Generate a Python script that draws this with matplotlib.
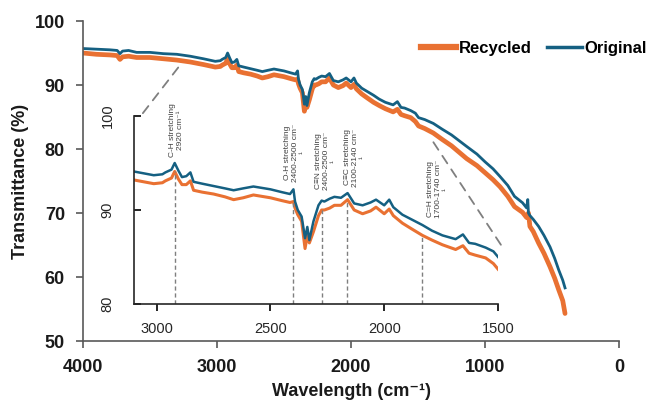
import numpy as np
import matplotlib
matplotlib.use("Agg")
import matplotlib.pyplot as plt
from matplotlib.lines import Line2D
from matplotlib.patches import ConnectionPatch

# FTIR spectra, wavenumber in cm-1
wavenumber = [4000, 3900, 3800, 3745, 3724, 3705, 3660, 3600, 3500, 3400, 3300, 3200,
              3101, 3013, 2975, 2962, 2935, 2921, 2905, 2889, 2870, 2852, 2838, 2800,
              2750, 2700, 2662, 2620, 2575, 2500, 2450, 2414, 2399, 2392, 2380, 2363,
              2348, 2338, 2329, 2311, 2289, 2275, 2263, 2240, 2219, 2190, 2161, 2132,
              2095, 2060, 2036, 2000, 1978, 1960, 1920, 1880, 1832, 1790, 1744, 1686,
              1654, 1627, 1600, 1554, 1520, 1496, 1450, 1386, 1320, 1250, 1137, 1060,
              1000, 940, 888, 830, 780, 720, 690, 681, 676, 665, 640, 600, 560, 515,
              480, 450, 420, 403]
original = [95.7, 95.6, 95.5, 95.4, 94.9, 95.3, 95.4, 95.1, 95.1, 94.9, 94.8, 94.5,
            94.1, 93.7, 93.8, 94.0, 94.3, 95.0, 94.2, 93.5, 93.6, 94.0, 93.0, 92.8,
            92.55, 92.3, 92.1, 92.3, 92.5, 92.2, 91.9, 91.7, 92.2, 90.9, 90.0, 89.3,
            87.0, 88.2, 86.8, 88.8, 90.5, 91.0, 90.9, 91.2, 91.4, 91.3, 91.8, 90.7,
            90.5, 90.8, 91.1, 90.5, 91.1, 90.3, 89.5, 89.0, 88.4, 87.8, 87.3, 86.9,
            87.4, 86.5, 86.4, 86.0, 85.6, 84.9, 84.6, 84.0, 83.1, 82.2, 80.4, 79.2,
            78.0, 76.9, 75.7, 74.3, 72.6, 71.6, 70.8, 72.1, 70.0, 69.6, 69.0, 67.9,
            66.5, 64.7, 62.9, 61.1, 59.5, 58.3]
recycled = [95.0, 94.8, 94.7, 94.6, 94.0, 94.4, 94.5, 94.3, 94.3, 94.1, 93.9, 93.6,
            93.2, 92.8, 92.9, 93.1, 93.4, 94.1, 93.3, 92.7, 92.7, 93.1, 92.1, 91.9,
            91.7, 91.4, 91.1, 91.3, 91.6, 91.3, 91.0, 90.8, 90.9, 90.2, 89.5, 88.8,
            85.9, 87.3, 86.5, 87.7, 89.4, 90.0, 90.0, 90.2, 90.5, 90.5, 91.1, 90.0,
            89.6, 89.9, 90.3, 89.6, 90.1, 89.4, 88.6, 88.0, 87.3, 86.8, 86.3, 85.8,
            86.2, 85.4, 85.2, 84.9, 84.3, 83.6, 83.2, 82.5, 81.5, 80.5, 78.5, 77.4,
            76.3, 75.2, 74.1, 72.6, 71.0, 70.1, 69.3, 69.8, 70.0, 67.9, 67.1, 65.3,
            63.7, 61.6, 59.8, 58.0, 56.3, 54.3]

# band annotations in the zoomed panel
band_labels = ["C-H stretching\n2920 cm\u207b\u00b9",
               "O-H stretching\n2400-2500 cm\u207b\n\u00b9",
               "C\u2261N stretching\n2400-2500 cm\u207b\n\u00b9",
               "C\u2261C stretching\n2100-2140 cm\u207b\n\u00b9",
               "C=H stretching\n1700-1740 cm\u207b\n\u00b9"]
band_line_wn = [2921, 2403, 2273, 2164, 1835]
band_text_wn = [2912, 2390, 2255, 2127, 1763]
band_text_y = [95.6, 93.0, 92.1, 92.5, 89.1]

BLUE = "#156082"
ORANGE = "#E97132"
bold_font = ["Liberation Sans", "DejaVu Sans"]
thin_font = ["Liberation Sans", "DejaVu Sans"]

fig = plt.figure(figsize=(6.51, 4.01), dpi=100)

# main spectrum
ax = fig.add_axes([0.1275, 0.1496, 0.8234, 0.798])
ax.plot(wavenumber, recycled, color=ORANGE, lw=3.4, solid_capstyle="round")
ax.plot(wavenumber, original, color=BLUE, lw=2.0)
ax.set_xlim(4000, 0)
ax.set_ylim(50, 100)
ax.set_xticks([4000, 3000, 2000, 1000, 0])
ax.set_yticks([50, 60, 70, 80, 90, 100])
for side in ["top", "right"]:
    ax.spines[side].set_visible(False)
for side in ["left", "bottom"]:
    ax.spines[side].set_color("#595959")
    ax.spines[side].set_linewidth(1.2)
ax.tick_params(direction="out", length=5, width=1.2, color="#595959", pad=8)
for lbl in ax.get_xticklabels() + ax.get_yticklabels():
    lbl.set_family(bold_font)
    lbl.set_fontweight("bold")
    lbl.set_fontsize(13)
    lbl.set_color("#1a1a1a")
ax.set_xlabel("Wavelength (cm\u207b\u00b9)", family=bold_font, fontweight="bold",
              fontsize=13, color="#1a1a1a", labelpad=5)
ax.set_ylabel("Transmittance (%)", family=bold_font, fontweight="bold",
              fontsize=13, color="#1a1a1a", labelpad=4)

# zoomed panel 3100-1500
inset = fig.add_axes([0.2058, 0.2419, 0.5591, 0.4688])
inset.patch.set_alpha(0)
inset.plot(wavenumber, recycled, color=ORANGE, lw=2.2)
inset.plot(wavenumber, original, color=BLUE, lw=1.8)
inset.set_xlim(3100, 1500)
inset.set_ylim(80, 100)
inset.set_xticks([3000, 2500, 2000, 1500])
inset.set_yticks([80, 90, 100])
for side in ["top", "right"]:
    inset.spines[side].set_visible(False)
for side in ["left", "bottom"]:
    inset.spines[side].set_color("#262626")
    inset.spines[side].set_linewidth(1.2)
inset.tick_params(axis="x", direction="out", length=5, width=1.2, pad=8)
inset.tick_params(axis="y", direction="in", length=5, width=1.2, pad=14, labelrotation=90)
for lbl in inset.get_xticklabels() + inset.get_yticklabels():
    lbl.set_family(thin_font)
    lbl.set_fontsize(10.5)
    lbl.set_color("#262626")
for lbl in inset.get_yticklabels():
    lbl.set_va("center")

# dashed markers for the bands
for lw_, tx, ty, txt in zip(band_line_wn, band_text_wn, band_text_y, band_labels):
    top = np.interp(lw_, wavenumber[::-1], recycled[::-1])
    inset.plot([lw_, lw_], [80, top], color="#7f7f7f", lw=1.0, ls=(0, (3, 2)))
    inset.text(tx, ty, txt, rotation=90, ha="center", va="bottom", multialignment="center",
               fontsize=6, family=thin_font, color="#404040", linespacing=1.2)

# zoom guide lines
guide_a = ConnectionPatch(xyA=(3061, 100.3), coordsA=inset.transData,
                          xyB=(3276, 93.1), coordsB=ax.transData,
                          color="#7f7f7f", lw=1.3, ls=(0, (5, 4)))
guide_b = ConnectionPatch(xyA=(1487, 86.3), coordsA=inset.transData,
                          xyB=(1396, 81.4), coordsB=ax.transData,
                          color="#7f7f7f", lw=1.3, ls=(0, (5, 4)))
fig.add_artist(guide_a)
fig.add_artist(guide_b)

handles = [Line2D([], [], color=ORANGE, lw=4.5), Line2D([], [], color=BLUE, lw=2.5)]
fig.legend(handles, ["Recycled", "Original"], loc="center right",
           bbox_to_anchor=(1.016, 0.879), ncol=2, frameon=False, handlelength=2.1,
           handletextpad=0.15, columnspacing=0.9,
           prop={"family": bold_font, "weight": "bold", "size": 12})

fig.savefig("out.png", dpi=100)
